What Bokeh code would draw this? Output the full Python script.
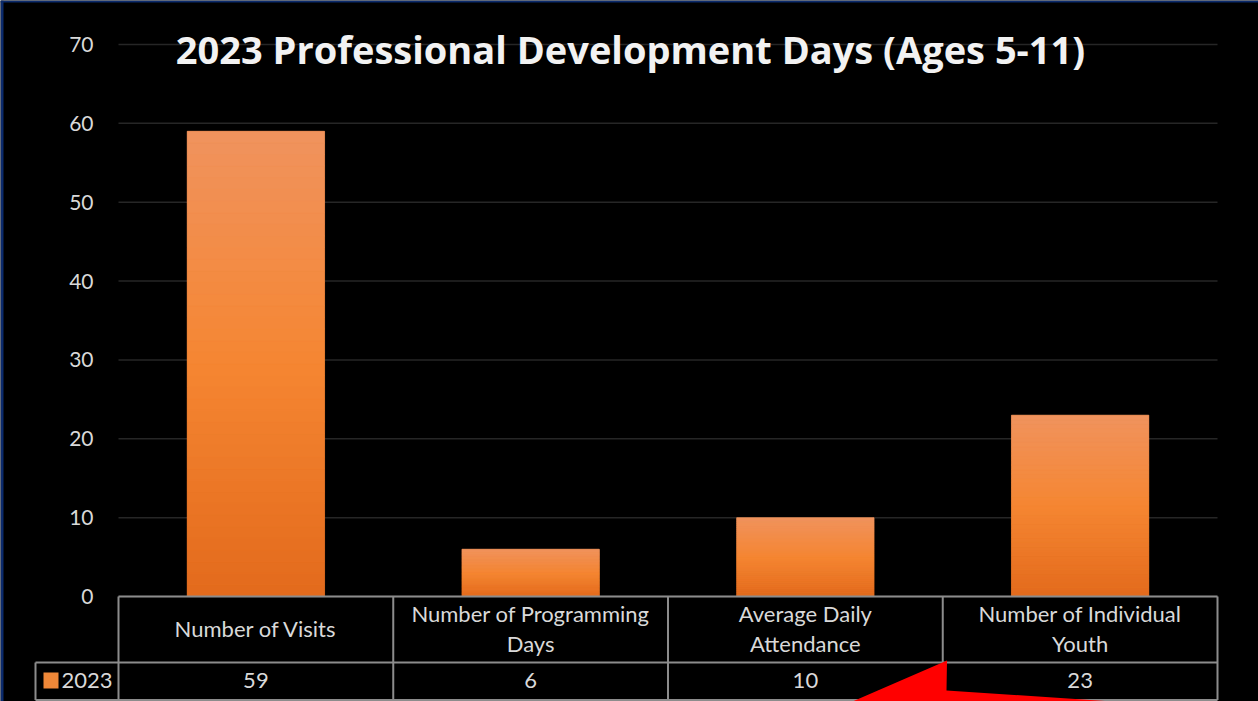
from bokeh.plotting import figure
from bokeh.models import Range1d, FixedTicker, BoxAnnotation, PolyAnnotation, Label
from bokeh.core.properties import value
from bokeh.embed import file_html
from bokeh.resources import INLINE

# ---------------- data ----------------
categories = ["Number of Visits", "Number of Programming Days",
              "Average Daily Attendance", "Number of Individual Youth"]
header_labels = ["Number of Visits", "Number of Programming\nDays",
                 "Average Daily\nAttendance", "Number of Individual\nYouth"]
series_name = "2023"
values_2023 = [59, 6, 10, 23]
y_ticks = [0, 10, 20, 30, 40, 50, 60, 70]
title_text = "2023 Professional Development Days (Ages 5-11)"

# ---------------- layout (pixels) ----------------
W, H = 1258, 701
PX_LEFT, PX_RIGHT = 118, 1217       # table / plot-area left & right
PX_ZERO, PX_TOP = 596, 44           # pixel rows of 0 and top tick
n = len(categories)
px_per_unit = (PX_ZERO - PX_TOP) / y_ticks[-1]


def X(px):
    return (px - PX_LEFT) * n / (PX_RIGHT - PX_LEFT)


def Y(py):
    return (PX_ZERO - py) / px_per_unit


TEXT = "#d9d9d9"
GRID = "#262626"
TABLE = "#8c8c8c"
FONT = value("Lato")

p = figure(width=W, height=H, output_backend="svg", toolbar_location=None,
           x_range=Range1d(X(0), X(W)), y_range=Range1d(Y(H), Y(0)),
           x_axis_location=None, title=None,
           min_border_left=0, min_border_right=0,
           min_border_top=0, min_border_bottom=0)
p.background_fill_color = "black"
p.border_fill_color = "black"
p.outline_line_color = None

# y axis: labels sit to the left of the plot area (inside the canvas)
p.yaxis.ticker = FixedTicker(ticks=y_ticks)
p.yaxis.axis_line_color = None
p.yaxis.major_tick_line_color = None
p.yaxis.minor_tick_line_color = None
p.yaxis.major_label_text_color = TEXT
p.yaxis.major_label_text_font = "Lato"
p.yaxis.major_label_text_font_size = "21px"
p.yaxis.major_label_standoff = -99

# grid lines limited to the plot area
p.ygrid.visible = False
p.segment(x0=[0] * len(y_ticks), x1=[n] * len(y_ticks), y0=y_ticks, y1=y_ticks,
          line_color=GRID, line_width=1.5)
p.xgrid.visible = False

# bars (base + vertical gradient overlay)
centers = [i + 0.5 for i in range(n)]
BAR_W = 0.5
p.vbar(x=centers, top=values_2023, bottom=0, width=BAR_W,
       fill_color="#f3863a", line_color=None)

stops = [(0.0, (240, 147, 94)), (0.5, (245, 134, 50)), (1.0, (227, 106, 28))]


def grad(t):
    for (t0, c0), (t1, c1) in zip(stops[:-1], stops[1:]):
        if t <= t1:
            f = (t - t0) / (t1 - t0)
            return "#%02x%02x%02x" % tuple(int(round(a + (b - a) * f)) for a, b in zip(c0, c1))
    return "#%02x%02x%02x" % stops[-1][1]


N = 40
gx, gb, gt, gc = [], [], [], []
for xc, v in zip(centers, values_2023):
    for k in range(N):
        gx.append(xc)
        gb.append(v * k / N)
        gt.append(v * (k + 1) / N)
        gc.append(grad(1 - (k + 0.5) / N))
p.vbar(x=gx, bottom=gb, top=gt, width=BAR_W, fill_color=gc, line_color=gc, line_width=0.6)

# data table under the chart
ROW_SPLIT = Y(662)
ROW_BOTTOM = Y(699.5)
LEG_LEFT = X(35)
p.segment(x0=[0, 1, 2, 3, n, LEG_LEFT, 0, LEG_LEFT, LEG_LEFT],
          y0=[0, 0, 0, 0, 0, ROW_SPLIT, 0, ROW_SPLIT, ROW_BOTTOM],
          x1=[0, 1, 2, 3, n, LEG_LEFT, n, n, n],
          y1=[ROW_BOTTOM] * 5 + [ROW_BOTTOM, 0, ROW_SPLIT, ROW_BOTTOM],
          line_color=TABLE, line_width=2)

p.text(x=centers, y=[Y(628)] * n, text=header_labels, text_align="center",
       text_baseline="middle", text_font=FONT, text_font_size="22px",
       text_color=TEXT, text_line_height=1.14)
p.text(x=centers, y=[Y(680)] * n, text=[str(v) for v in values_2023],
       text_align="center", text_baseline="middle",
       text_font=FONT, text_font_size="22px", text_color=TEXT)

# legend key in table
p.add_layout(BoxAnnotation(left=X(43), right=X(58), top=Y(672), bottom=Y(688),
                           fill_color="#f08838", fill_alpha=1, line_color=None))
p.add_layout(Label(x=X(61), y=Y(680), text=series_name, text_align="left",
                   text_baseline="middle", text_font="Lato", text_font_size="22px",
                   text_color=TEXT))

# title
p.add_layout(Label(x=X(630), y=Y(48), text=title_text, text_align="center",
                   text_baseline="alphabetic", text_font="Open Sans",
                   text_font_style="bold", text_font_size="38px", text_color="#f2f2f2"))

# red arrow head (annotation)
p.add_layout(PolyAnnotation(xs=[X(852), X(946.5), X(946), X(1112)],
                            ys=[Y(701), Y(660), Y(690), Y(701)],
                            fill_color="#ff0000", fill_alpha=1, line_color=None))

# navy frame edges
NAVY = "#0b2a6b"
p.add_layout(BoxAnnotation(left=X(0), right=X(3), top=Y(0), bottom=Y(H),
                           fill_color=NAVY, fill_alpha=1, line_color=None))
p.add_layout(BoxAnnotation(left=X(0), right=X(W), top=Y(0), bottom=Y(2),
                           fill_color=NAVY, fill_alpha=1, line_color=None))

open("out.html", "w").write(file_html(p, INLINE))
